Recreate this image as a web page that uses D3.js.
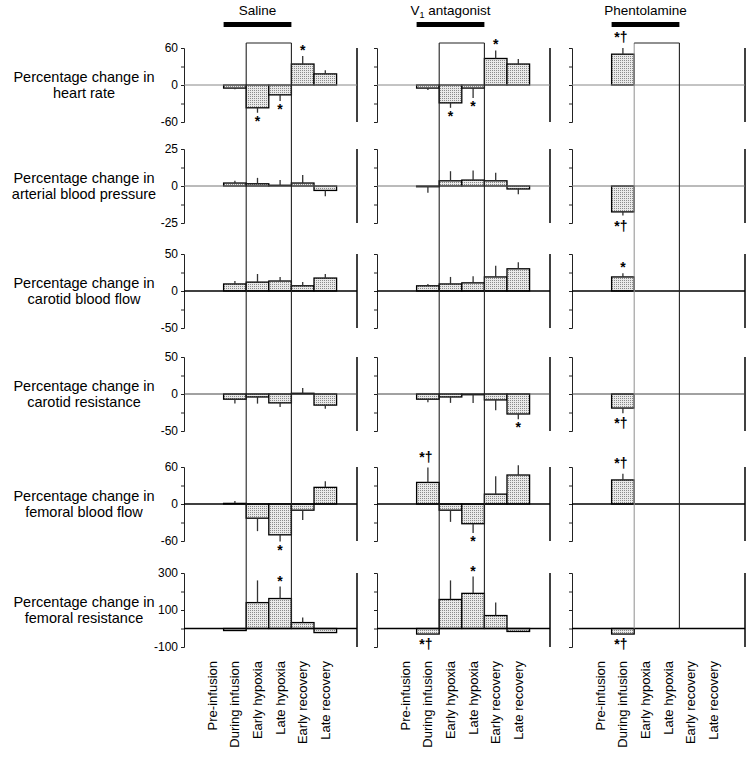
<!DOCTYPE html>
<html><head><meta charset="utf-8">
<script src="https://cdn.jsdelivr.net/npm/d3@7/dist/d3.min.js"></script>
<style>body{margin:0;background:#fff}svg{display:block}</style>
</head><body><svg id="c" width="750" height="761"></svg>
<script>
// ---------- DATA ----------
const groups = ["Saline", "V1 antagonist", "Phentolamine"];
const categories = ["Pre-infusion", "During infusion", "Early hypoxia", "Late hypoxia", "Early recovery", "Late recovery"];
const variables = ["heart rate", "arterial blood pressure", "carotid blood flow", "carotid resistance", "femoral blood flow", "femoral resistance"];
const axisDomains = [[-60, 60], [-25, 25], [-50, 50], [-50, 50], [-60, 60], [-100, 300]];
const tickValues = [[-60, -30, 0, 30, 60], [-25, -12.5, 0, 12.5, 25], [-50, -25, 0, 25, 50], [-50, -25, 0, 25, 50], [-60, -30, 0, 30, 60], [-100, 0, 100, 200, 300]];
const tickLabels = [[60, 0, -60], [25, 0, -25], [50, 0, -50], [50, 0, -50], [60, 0, -60], [300, 100, -100]];

const salineMean = [
  [0, -5, -37, -16, 34, 18],
  [0, 2, 1.5, 0.5, 2, -3],
  [0, 9.5, 12, 13.5, 7, 17.5],
  [0, -7, -4, -12, 1, -15],
  [0, 1, -23, -50, -10, 27],
  [0, -11, 140, 162, 32, -22]
];
const salineSE = [
  [0, 2, 8, 10, 13, 6],
  [0, 1.5, 4, 3.5, 5.5, 4],
  [0, 4, 11, 5.5, 5, 5.5],
  [0, 6, 9, 5.5, 7, 5],
  [0, 4, 21, 11, 16, 10],
  [0, 0, 120, 65, 27, 0]
];
const salineSig = [
  ["", "", "*", "*", "*", ""],
  ["", "", "", "", "", ""],
  ["", "", "", "", "", ""],
  ["", "", "", "", "", ""],
  ["", "", "", "*", "", ""],
  ["", "", "", "*", "", ""]
];

const v1Mean = [
  [0, -5, -29, -5, 43, 34],
  [0, -0.5, 3.5, 4, 3.5, -2],
  [0, 7, 9.5, 11, 19, 30],
  [0, -7, -4, -1, -8, -27],
  [0, 35, -10, -32, 16, 47],
  [0, -30, 157, 190, 70, -16]
];
const v1SE = [
  [0, 3, 8, 16, 13, 8],
  [0, 4, 6.5, 6.5, 5.5, 3.5],
  [0, 2.5, 9.5, 9, 15, 9],
  [0, 4, 8, 11, 14, 7],
  [0, 24, 19, 15, 29, 16],
  [0, 0, 103, 91, 70, 0]
];
const v1Sig = [
  ["", "", "*", "*", "*", ""],
  ["", "", "", "", "", ""],
  ["", "", "", "", "", ""],
  ["", "", "", "", "", "*"],
  ["", "*†", "", "*", "", ""],
  ["", "*†", "", "*", "", ""]
];

const phentMean = [
  [0, 50, null, null, null, null],
  [0, -17.5, null, null, null, null],
  [0, 19, null, null, null, null],
  [0, -19, null, null, null, null],
  [0, 39, null, null, null, null],
  [0, -30, null, null, null, null]
];
const phentSE = [
  [0, 10, null, null, null, null],
  [0, 2.5, null, null, null, null],
  [0, 5, null, null, null, null],
  [0, 7, null, null, null, null],
  [0, 10, null, null, null, null],
  [0, 0, null, null, null, null]
];
const phentSig = [
  ["", "*†", "", "", "", ""],
  ["", "*†", "", "", "", ""],
  ["", "*", "", "", "", ""],
  ["", "*†", "", "", "", ""],
  ["", "*†", "", "", "", ""],
  ["", "*†", "", "", "", ""]
];

const groupMeans = [salineMean, v1Mean, phentMean];
const groupSEs = [salineSE, v1SE, phentSE];
const groupSigs = [salineSig, v1Sig, phentSig];

// ---------- LAYOUT ----------
const FONT = "'Liberation Sans', Arial, Helvetica, sans-serif";
const colAxis = [184, 377, 572];
const panelWidth = 173;
const bandStart = 17, bandW = 22.6;
const rowTop = [48, 149, 254, 357, 467, 573];
const rowH = 74;
const zeroStyle = [["#888", 1], ["#777", 1], ["#000", 1.5], ["#444", 1], ["#000", 1.5], ["#000", 1.5]];

const svg = d3.select("#c");
const defs = svg.append("defs");
const pat = defs.append("pattern").attr("id", "stip").attr("patternUnits", "userSpaceOnUse")
  .attr("width", 2).attr("height", 2);
pat.append("rect").attr("width", 2).attr("height", 2).attr("fill", "#e9e9e9");
pat.append("rect").attr("width", 1).attr("height", 1).attr("fill", "#8a8a8a");

const yScales = axisDomains.map((d, r) => d3.scaleLinear().domain(d).range([rowTop[r] + rowH, rowTop[r]]));
const xScales = colAxis.map(a => d3.scaleBand().domain(categories).range([a + bandStart, a + bandStart + categories.length * bandW]).padding(0));

// Row labels (left)
variables.forEach((v, r) => {
  const mid = rowTop[r] + rowH / 2;
  const t = svg.append("text").attr("x", 84).attr("text-anchor", "middle")
    .attr("font-family", FONT).attr("font-size", 14.5).attr("fill", "#000");
  t.append("tspan").attr("x", 84).attr("y", mid - 3).text("Percentage change in");
  t.append("tspan").attr("x", 84).attr("y", mid + 13).text(v);
});

// Titles and infusion bars
groups.forEach((g, c) => {
  const x = xScales[c];
  const x0 = x("During infusion"), x1 = x("Late hypoxia") + x.bandwidth();
  svg.append("rect").attr("x", x0).attr("y", 22).attr("width", x1 - x0).attr("height", 5).attr("fill", "#000");
  const t = svg.append("text").attr("x", (x0 + x1) / 2).attr("y", 15).attr("text-anchor", "middle")
    .attr("font-family", FONT).attr("font-size", 13.5).attr("fill", "#000");
  if (c === 1) {
    t.append("tspan").text("V");
    t.append("tspan").attr("font-size", 9).attr("dy", 3).text("1");
    t.append("tspan").attr("dy", -3).text(" antagonist");
  } else t.text(g);
});

// Panels
groups.forEach((g, c) => {
  const x = xScales[c];
  const ax = colAxis[c];
  variables.forEach((v, r) => {
    const y = yScales[r];
    const G = svg.append("g");
    const axis = d3.axisLeft(y).tickValues(tickValues[r]).tickSize(3)
      .tickFormat(d => (c === 0 && tickLabels[r].includes(d)) ? String(d) : "");
    const ag = G.append("g").attr("transform", `translate(${ax},0)`).call(axis);
    ag.select(".domain").attr("stroke", "#222").attr("stroke-width", 1);
    ag.selectAll(".tick line").attr("stroke", "#222");
    ag.selectAll(".tick text").attr("font-family", FONT).attr("font-size", 12).attr("fill", "#000").attr("x", -6);
    G.append("line").attr("x1", ax + panelWidth).attr("x2", ax + panelWidth)
      .attr("y1", y(axisDomains[r][1])).attr("y2", y(axisDomains[r][0]))
      .attr("stroke", "#000").attr("stroke-width", 1.5);
    const means = groupMeans[c][r], ses = groupSEs[c][r], sigs = groupSigs[c][r];
    categories.forEach((cat, i) => {
      const m = means[i];
      if (m === null || m === undefined) return;
      const bx = x(cat), bw = x.bandwidth(), cx = bx + bw / 2;
      if (m !== 0) {
        G.append("rect").attr("x", bx).attr("width", bw)
          .attr("y", Math.min(y(m), y(0))).attr("height", Math.abs(y(m) - y(0)))
          .attr("fill", "url(#stip)").attr("stroke", "#000").attr("stroke-width", 1.3);
      }
      const se = ses[i] || 0;
      const dir = m >= 0 ? 1 : -1;
      const end = m + dir * se;
      if (se > 0) {
        G.append("line").attr("x1", cx).attr("x2", cx).attr("y1", y(m)).attr("y2", y(end))
          .attr("stroke", "#333").attr("stroke-width", 1.3);
      }
      const s = sigs[i];
      if (s) {
        const ey = y(end);
        const by = dir > 0 ? ey - (s.length > 1 ? 6 : 1) : ey + (s.length > 1 ? 15 : 13);
        G.append("text").attr("x", cx - (s.length > 1 ? 2 : 0)).attr("y", by).attr("text-anchor", "middle")
          .attr("font-family", FONT).attr("font-size", 14).attr("font-weight", "bold").attr("fill", "#000")
          .text(s);
      }
    });
    G.append("line").attr("x1", ax).attr("x2", ax + panelWidth).attr("y1", y(0)).attr("y2", y(0))
      .attr("stroke", zeroStyle[r][0]).attr("stroke-width", zeroStyle[r][1]);
  });
  const bx0 = x("Early hypoxia"), bx1 = x("Late hypoxia") + x.bandwidth();
  const yb = yScales[5](0);
  const yt = rowTop[0] - 5;
  const boxLeftColor = c === 2 ? "#999" : "#222";
  svg.append("line").attr("x1", bx0).attr("x2", bx0).attr("y1", yt).attr("y2", yb).attr("stroke", boxLeftColor).attr("stroke-width", 1.1);
  svg.append("line").attr("x1", bx1).attr("x2", bx1).attr("y1", yt).attr("y2", yb).attr("stroke", "#222").attr("stroke-width", 1.1);
  svg.append("line").attr("x1", bx0).attr("x2", bx1).attr("y1", yt).attr("y2", yt).attr("stroke", "#222").attr("stroke-width", 1.1);
  categories.forEach(cat => {
    const cx = x(cat) + x.bandwidth() / 2;
    svg.append("text").attr("transform", `translate(${cx},661) rotate(-90)`)
      .attr("text-anchor", "end").attr("dy", "0.35em")
      .attr("font-family", FONT).attr("font-size", 13).attr("fill", "#000").text(cat);
  });
});
</script></body></html>
